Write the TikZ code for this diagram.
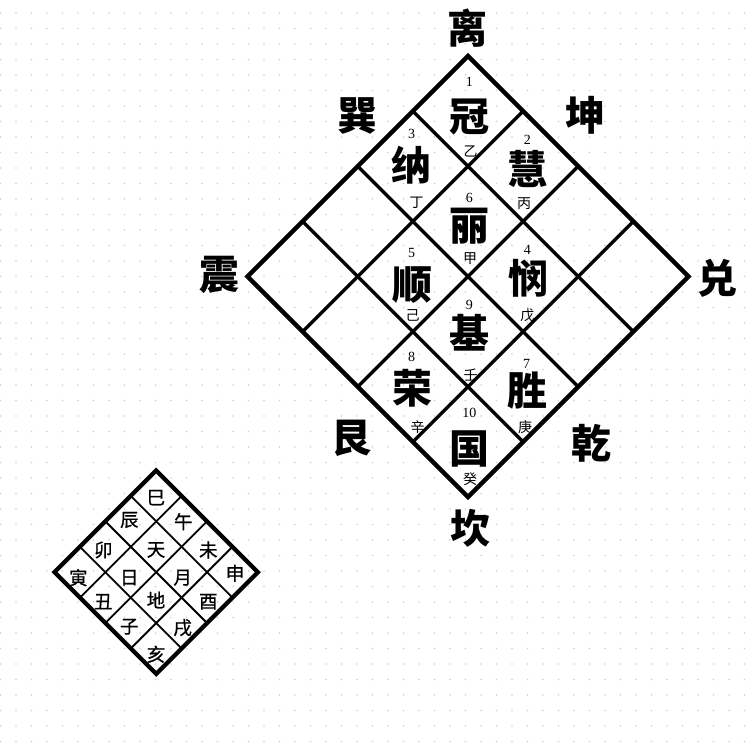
\documentclass[tikz,border=0pt]{standalone}
\usepackage{fontspec}
\usepackage{tikz}
\usetikzlibrary{calc}
\setmainfont{Liberation Serif}
\newfontfamily\cjk{Noto Sans CJK SC}
\newfontfamily\cjkm{Noto Sans CJK SC}[FakeBold=0.8]
\definecolor{dotgray}{HTML}{CFCFCF}
\tikzset{
  rim/.style={draw=black, line width=4.5pt, line join=miter},
  web/.style={draw=black, line width=3.4pt},
  rims/.style={draw=black, line width=4.2pt, line join=miter},
  webs/.style={draw=black, line width=1.8pt},
  gua/.style={font=\cjk\bfseries\fontsize{40}{40}\selectfont, inner sep=0pt},
  zi/.style={font=\cjk\bfseries\fontsize{40}{40}\selectfont, inner sep=0pt},
  num/.style={font=\fontsize{14}{14}\selectfont, inner sep=0pt},
  gan/.style={font=\cjk\fontsize{14}{14}\selectfont, inner sep=0pt},
  zhi/.style={font=\cjkm\fontsize{18.5}{18.5}\selectfont, inner sep=0pt},
}
\begin{document}
\begin{tikzpicture}[x=1pt, y=-1pt]
        \useasboundingbox (0,0) rectangle (748,744);
        % dotted paper
        \foreach \i in {0,...,48} \foreach \j in {0,...,47}
          \fill[dotgray] (0.5+15.5*\i,13+15.5*\j) circle (0.85);
        % big board
        \coordinate (T) at (468,56);
        \coordinate (R) at (688.5,276.5);
        \coordinate (B) at (468,497);
        \coordinate (L) at (247.5,276.5);
        \foreach \k in {0.25,0.5,0.75} {
          \draw[web] ($(T)!\k!(L)$) -- ($(R)!\k!(B)$);
          \draw[web] ($(T)!\k!(R)$) -- ($(L)!\k!(B)$);
        }
        \draw[rim] (T) -- (R) -- (B) -- (L) -- cycle;
        % trigrams
        \node[gua] (li) at (467,28) {离};
        \node[gua] (xun) at (357,116) {巽};
        \node[gua] (kun) at (585,115) {坤};
        \node[gua] (zhen) at (219,275) {震};
        \node[gua] (dui) at (717.5,278) {兑};
        \node[gua] (gen) at (351.5,438) {艮};
        \node[gua] (qian) at (591,443) {乾};
        \node[gua] (kan) at (470,528) {坎};
        % cells
        \node[zi] (guan) at (469.5,117) {冠};
        \node[num] (n1) at (469.3,81.7) {1};
        \node[gan] (yi) at (470.7,151.7) {乙};
        \node[zi] (hui) at (527.7,169) {慧};
        \node[num] (n2) at (527.3,140) {2};
        \node[gan] (bing) at (524,204) {丙};
        \node[zi] (na) at (411.7,165) {纳};
        \node[num] (n3) at (411.7,134.3) {3};
        \node[gan] (ding) at (416.7,203) {丁};
        \node[zi] (lii) at (469.3,226) {丽};
        \node[num] (n6) at (469.3,197.7) {6};
        \node[gan] (jia) at (470,258.5) {甲};
        \node[zi] (min) at (528,278) {悯};
        \node[num] (n4) at (527.3,250) {4};
        \node[gan] (wu) at (527.3,315) {戊};
        \node[zi] (shun) at (412,285) {顺};
        \node[num] (n5) at (411.7,252.7) {5};
        \node[gan] (ji) at (412.7,315) {己};
        \node[zi] (jii) at (469,333) {基};
        \node[num] (n9) at (469.3,305) {9};
        \node[gan] (ren) at (470.7,375) {壬};
        \node[zi] (rong) at (412,388) {荣};
        \node[num] (n8) at (411.7,356.7) {8};
        \node[gan] (xin) at (417.7,426.7) {辛};
        \node[zi] (sheng) at (527.5,391) {胜};
        \node[num] (n7) at (526.7,364) {7};
        \node[gan] (geng) at (525,426.7) {庚};
        \node[zi] (guo) at (469.7,449) {国};
        \node[num] (n10) at (469.3,412.7) {10};
        \node[gan] (gui) at (470,479.3) {癸};
        % small board
        \coordinate (t) at (156.2,470.5);
        \coordinate (r) at (257.9,572.2);
        \coordinate (b) at (156.2,673.9);
        \coordinate (l) at (54.5,572.2);
        \foreach \k in {0.25,0.5,0.75} {
          \draw[webs] ($(t)!\k!(l)$) -- ($(r)!\k!(b)$);
          \draw[webs] ($(t)!\k!(r)$) -- ($(l)!\k!(b)$);
        }
        \draw[rims] (t) -- (r) -- (b) -- (l) -- cycle;
        \node[zhi] (si) at (156,497.7) {巳};
        \node[zhi] (chen) at (129.3,520) {辰};
        \node[zhi] (wuu) at (183.3,521.7) {午};
        \node[zhi] (mao) at (103.3,550) {卯};
        \node[zhi] (tian) at (156,550) {天};
        \node[zhi] (wei) at (208.3,550) {未};
        \node[zhi] (yin) at (78.3,577.7) {寅};
        \node[zhi] (ri) at (129.3,577.7) {日};
        \node[zhi] (yue) at (182.7,577.7) {月};
        \node[zhi] (shen) at (235,573.3) {申};
        \node[zhi] (chou) at (103.3,601.7) {丑};
        \node[zhi] (di) at (156,600) {地};
        \node[zhi] (you) at (208.3,601.7) {酉};
        \node[zhi] (zii) at (129.3,626.7) {子};
        \node[zhi] (xu) at (182.7,627.7) {戌};
        \node[zhi] (hai) at (156,654.3) {亥};
      \end{tikzpicture}
\end{document}
